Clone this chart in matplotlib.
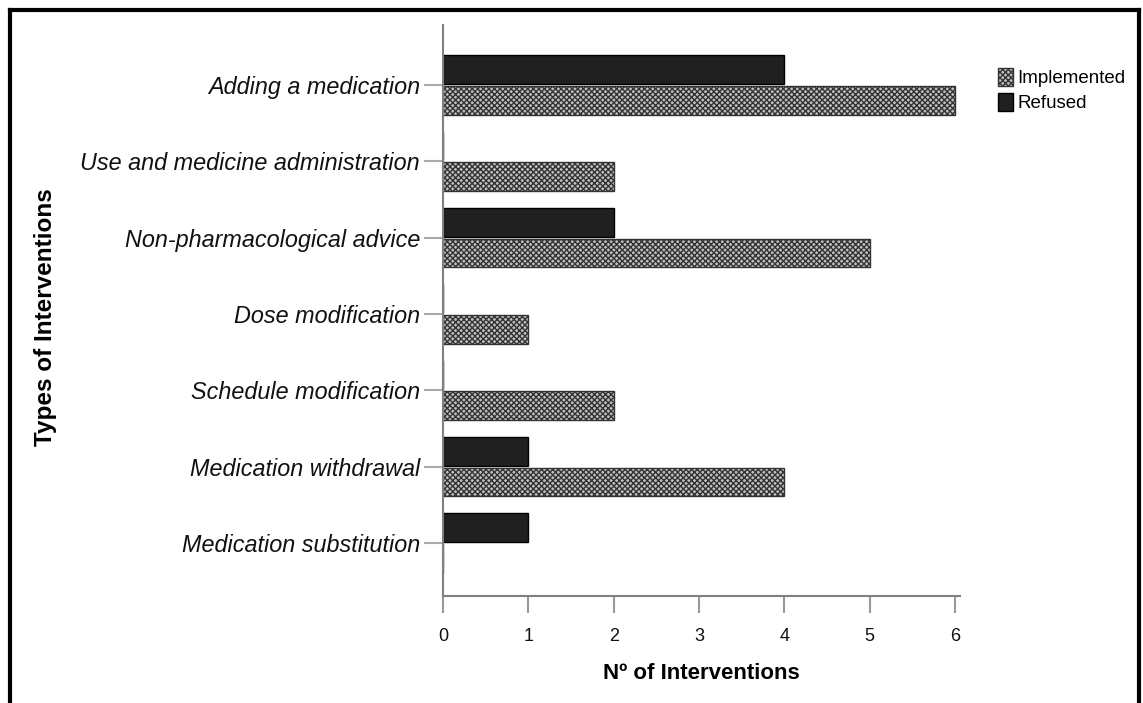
import matplotlib
matplotlib.use("Agg")
import matplotlib.pyplot as plt
from matplotlib.lines import Line2D
from matplotlib.patches import Patch
import numpy as np

plt.rcParams['font.family'] = ['Liberation Sans', 'DejaVu Sans']
plt.rcParams['hatch.linewidth'] = 1.0

categories = ["Medication substitution", "Medication withdrawal", "Schedule modification",
              "Dose modification", "Non-pharmacological advice",
              "Use and medicine administration", "Adding a medication"]
implemented = [0, 4, 2, 1, 5, 2, 6]
refused = [1, 1, 0, 0, 2, 0, 4]
x_ticks = [0, 1, 2, 3, 4, 5, 6]

fig = plt.figure(figsize=(11.43, 7.03), dpi=100)
ax = fig.add_axes([443/1143, 1-596/703, (960-443)/1143, (596-25)/703])

y = np.arange(len(categories))
h = 0.375
ax.barh(y + 0.2, refused, height=h, color='#202020', edgecolor='#000000', linewidth=1.0,
        label='Refused', zorder=2)
ax.barh(y - 0.2, implemented, height=h, color='#c0c0c0', edgecolor='#333333', hatch='xxxxxx',
        linewidth=1.0, label='Implemented', zorder=2)

ax.set_xlim(0, 6.06)
ax.set_ylim(-0.694, 6.786)
ax.set_yticks(y)
ax.set_yticklabels(categories, fontsize=16.8, style='italic', color='#111111')
ax.set_xticks(x_ticks)
ax.set_xticklabels([str(v) for v in x_ticks], fontsize=13, color='#111111')

for s in ['top', 'right']:
    ax.spines[s].set_visible(False)
for s in ['left', 'bottom']:
    ax.spines[s].set_color('#808080')
    ax.spines[s].set_linewidth(1.5)
    ax.spines[s].set_zorder(5)
ax.tick_params(axis='y', length=14, width=1.5, color='#aaaaaa', pad=2.5)
ax.tick_params(axis='x', length=12, width=1.5, color='#999999', pad=11)

ax.set_xlabel("Nº of Interventions", fontsize=16, fontweight='bold', labelpad=13)
fig.text(46/1143, 1-317/703, "Types of Interventions", rotation=90, fontsize=17.5,
         fontweight='bold', ha='center', va='center')

handles = [Patch(facecolor='#c0c0c0', edgecolor='#333333', hatch='xxxxxx', label='Implemented'),
           Patch(facecolor='#202020', edgecolor='#000000', label='Refused')]
fig.legend(handles=handles, loc='upper left', bbox_to_anchor=(990/1143, 1-60/703),
           frameon=False, fontsize=13.5, handlelength=0.85, handleheight=1.1,
           handletextpad=0.2, labelspacing=0.3, borderaxespad=0)

# outer frame (top, left, right)
fig.add_artist(Line2D([10/1143, 10/1143], [0, 1-10/703], transform=fig.transFigure, color='black', lw=3))
fig.add_artist(Line2D([10/1143, 1139/1143], [1-10/703, 1-10/703], transform=fig.transFigure, color='black', lw=3))
fig.add_artist(Line2D([1139/1143, 1139/1143], [0, 1-10/703], transform=fig.transFigure, color='black', lw=3))

fig.savefig("out.png", dpi=100)
